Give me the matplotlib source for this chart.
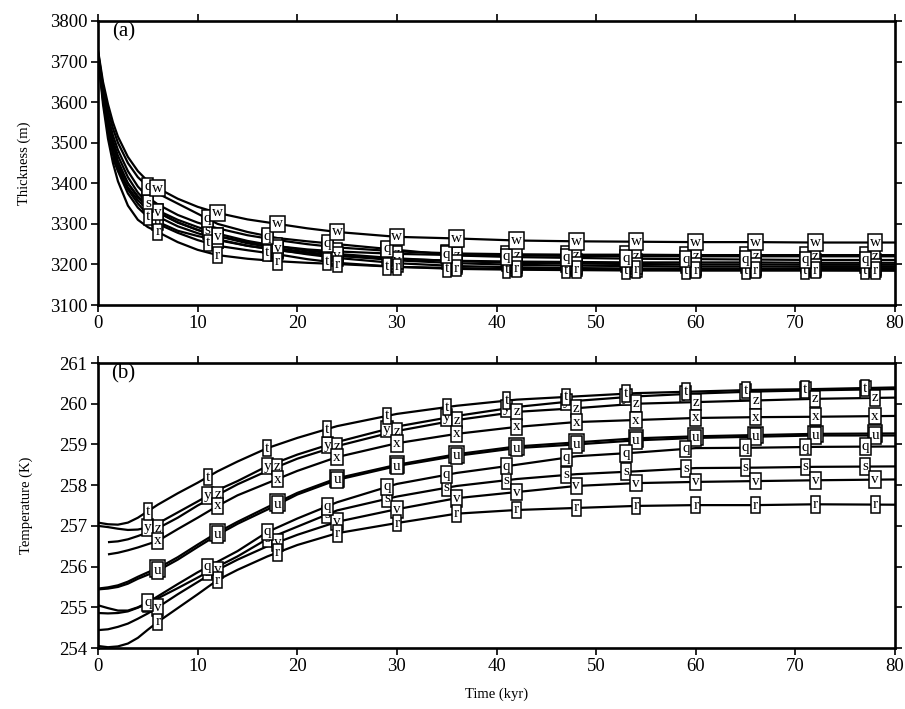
import numpy as np
import matplotlib
matplotlib.use('Agg')
import matplotlib.pyplot as plt

plt.rcParams['font.family'] = ['Liberation Serif', 'DejaVu Serif']

nan = np.nan

# ---------------- Panel (a): ice thickness (m) ----------------
time_a = [0, 0.5, 1, 1.5, 2, 3, 4, 5, 6, 8, 10, 12, 15, 18, 21, 24, 30, 36, 42, 48, 54, 60, 66, 72, 80]
thick_q = [3725, 3640, 3580, 3535, 3500, 3450, 3415, 3392, 3375, 3350, 3325, 3300, 3280, 3265, 3257, 3250, 3236, 3222, 3218, 3216, 3214, 3213, 3212, 3211, 3211]
thick_w = [3728, 3650, 3595, 3550, 3515, 3465, 3430, 3405, 3388, 3362, 3342, 3327, 3311, 3300, 3289, 3280, 3268, 3264, 3259, 3257, 3256, 3255, 3255, 3254, 3254]
thick_s = [3720, 3625, 3555, 3505, 3468, 3415, 3377, 3351, 3333, 3310, 3292, 3276, 3258, 3245, 3234, 3226, 3215, 3208, 3204, 3202, 3201, 3200, 3200, 3199, 3199]
thick_v = [3718, 3620, 3548, 3495, 3455, 3400, 3365, 3343, 3329, 3304, 3285, 3270, 3252, 3240, 3230, 3222, 3210, 3203, 3199, 3197, 3196, 3195, 3195, 3194, 3194]
thick_t = [3715, 3605, 3525, 3470, 3430, 3375, 3340, 3317, 3300, 3278, 3260, 3246, 3235, 3225, 3213, 3204, 3194, 3189, 3187, 3186, 3185, 3185, 3185, 3185, 3185]
thick_u = [3718, 3612, 3535, 3482, 3442, 3385, 3350, 3323, 3305, 3283, 3270, 3260, 3246, 3236, 3225, 3216, 3203, 3196, 3193, 3191, 3190, 3190, 3190, 3189, 3189]
thick_r = [3712, 3595, 3510, 3450, 3405, 3345, 3310, 3292, 3280, 3255, 3236, 3223, 3214, 3208, 3204, 3201, 3194, 3191, 3189, 3188, 3187, 3186, 3186, 3186, 3185]
thick_x = [nan, nan, nan, 3460, 3432, 3390, 3358, 3335, 3318, 3294, 3277, 3262, 3246, 3235, 3227, 3221, 3213, 3209, 3207, 3206, 3205, 3205, 3205, 3204, 3204]
thick_y = [3722, 3630, 3565, 3518, 3482, 3430, 3392, 3366, 3348, 3322, 3303, 3289, 3272, 3260, 3250, 3242, 3232, 3227, 3225, 3224, 3224, 3223, 3223, 3223, 3223]
thick_z = [nan, nan, nan, 3475, 3445, 3400, 3368, 3345, 3328, 3303, 3285, 3270, 3255, 3245, 3237, 3232, 3226, 3223, 3222, 3221, 3220, 3220, 3220, 3220, 3220]

# ---------------- Panel (b): temperature (K) ----------------
time_b = [0, 1, 2, 3, 4, 5, 6, 8, 10, 12, 14, 17, 20, 24, 30, 36, 42, 48, 54, 60, 66, 72, 80]
temp_t = [257.08, 257.04, 257.03, 257.08, 257.20, 257.36, 257.52, 257.80, 258.06, 258.34, 258.58, 258.91, 259.16, 259.45, 259.75, 259.95, 260.10, 260.18, 260.26, 260.30, 260.34, 260.36, 260.40]
temp_y = [257.00, 256.97, 256.93, 256.90, 256.91, 256.96, 257.06, 257.33, 257.60, 257.88, 258.10, 258.47, 258.75, 259.06, 259.44, 259.70, 259.92, 260.07, 260.18, 260.25, 260.30, 260.33, 260.36]
temp_z = [nan, 256.60, 256.62, 256.67, 256.75, 256.84, 256.94, 257.20, 257.50, 257.76, 258.02, 258.35, 258.65, 258.96, 259.33, 259.60, 259.80, 259.89, 260.00, 260.04, 260.08, 260.12, 260.15]
temp_x = [nan, 256.30, 256.34, 256.40, 256.47, 256.55, 256.63, 256.92, 257.20, 257.49, 257.75, 258.05, 258.35, 258.69, 259.03, 259.26, 259.43, 259.55, 259.60, 259.65, 259.67, 259.68, 259.70]
temp_u = [255.44, 255.46, 255.50, 255.58, 255.70, 255.80, 255.90, 256.17, 256.48, 256.78, 257.05, 257.40, 257.77, 258.13, 258.47, 258.72, 258.91, 259.00, 259.10, 259.16, 259.19, 259.22, 259.22]
temp_w = [255.46, 255.49, 255.54, 255.63, 255.75, 255.86, 255.96, 256.23, 256.54, 256.84, 257.10, 257.46, 257.81, 258.17, 258.50, 258.76, 258.95, 259.05, 259.15, 259.20, 259.23, 259.26, 259.27]
temp_q = [255.05, 254.98, 254.92, 254.92, 255.00, 255.12, 255.27, 255.57, 255.86, 256.12, 256.38, 256.85, 257.18, 257.58, 258.03, 258.30, 258.50, 258.71, 258.80, 258.91, 258.92, 258.94, 258.95]
temp_s = [254.86, 254.85, 254.86, 254.90, 254.99, 255.10, 255.22, 255.47, 255.73, 256.00, 256.25, 256.68, 256.98, 257.38, 257.72, 257.98, 258.15, 258.27, 258.34, 258.42, 258.43, 258.45, 258.46]
temp_v = [254.44, 254.46, 254.52, 254.60, 254.72, 254.85, 255.00, 255.32, 255.62, 255.92, 256.17, 256.50, 256.78, 257.10, 257.41, 257.68, 257.83, 257.98, 258.05, 258.08, 258.10, 258.12, 258.14]
temp_r = [254.05, 254.02, 254.04, 254.11, 254.25, 254.45, 254.64, 254.98, 255.32, 255.67, 255.92, 256.25, 256.53, 256.82, 257.07, 257.30, 257.39, 257.44, 257.49, 257.51, 257.51, 257.53, 257.52]

left_labels = ['q', 's', 't', 'y']   # marker boxes in the earlier column

# drawing order: hidden ones first
series_a = [('x', thick_x), ('y', thick_y), ('z', thick_z), ('u', thick_u), ('v', thick_v),
            ('s', thick_s), ('t', thick_t), ('r', thick_r), ('q', thick_q), ('w', thick_w)]
series_b = [('w', temp_w), ('s', temp_s), ('y', temp_y), ('t', temp_t), ('z', temp_z),
            ('x', temp_x), ('u', temp_u), ('v', temp_v), ('r', temp_r), ('q', temp_q)]

mk_left = np.arange(5, 80, 6)
mk_right = np.arange(6, 80, 6)

fig = plt.figure(figsize=(9.05, 7.09), dpi=100)
axa = fig.add_axes([0.1083, 0.5698, 0.8807, 0.4006])
axb = fig.add_axes([0.1083, 0.0860, 0.8807, 0.4020])


def draw(ax, time, series):
    time = np.asarray(time, float)
    for i, (lab, vals) in enumerate(series):
        vals = np.asarray(vals, float)
        ok = np.isfinite(vals)
        ax.plot(time[ok], vals[ok], color='black', lw=1.6, zorder=2,
                solid_capstyle='butt')
    for i, (lab, vals) in enumerate(series):
        vals = np.asarray(vals, float)
        ok = np.isfinite(vals)
        tt = mk_left if lab in left_labels else mk_right
        yy = np.interp(tt, time[ok], vals[ok])
        for a, b in zip(tt, yy):
            ax.text(a, b, lab, ha='center', va='center', fontsize=11,
                    zorder=3 + i,
                    bbox=dict(boxstyle='square,pad=0.12', fc='white', ec='black', lw=1.1))


draw(axa, time_a, series_a)
draw(axb, time_b, series_b)

axa.set_xlim(0, 80)
axa.set_ylim(3100, 3800)
axa.set_yticks(np.arange(3100, 3801, 100))
axb.set_xlim(0, 80)
axb.set_ylim(254, 261)
axb.set_yticks(np.arange(254, 261.5, 1))

for ax in (axa, axb):
    ax.set_xticks(np.arange(0, 81, 10))
    ax.tick_params(direction='out', top=True, right=True, length=5, width=1.2,
                   labelsize=13.5, pad=2.5)
    for sp in ax.spines.values():
        sp.set_linewidth(1.9)

axa.set_ylabel('Thickness (m)', fontsize=10.5, labelpad=14)
axb.set_ylabel('Temperature (K)', fontsize=10.5, labelpad=19)
axb.set_xlabel('Time (kyr)', fontsize=10.5, labelpad=9)

axa.text(0.018, 0.995, '(a)', transform=axa.transAxes, fontsize=15, ha='left', va='top')
axb.text(0.016, 0.995, '(b)', transform=axb.transAxes, fontsize=15, ha='left', va='top')

fig.savefig('out.png', dpi=100)
